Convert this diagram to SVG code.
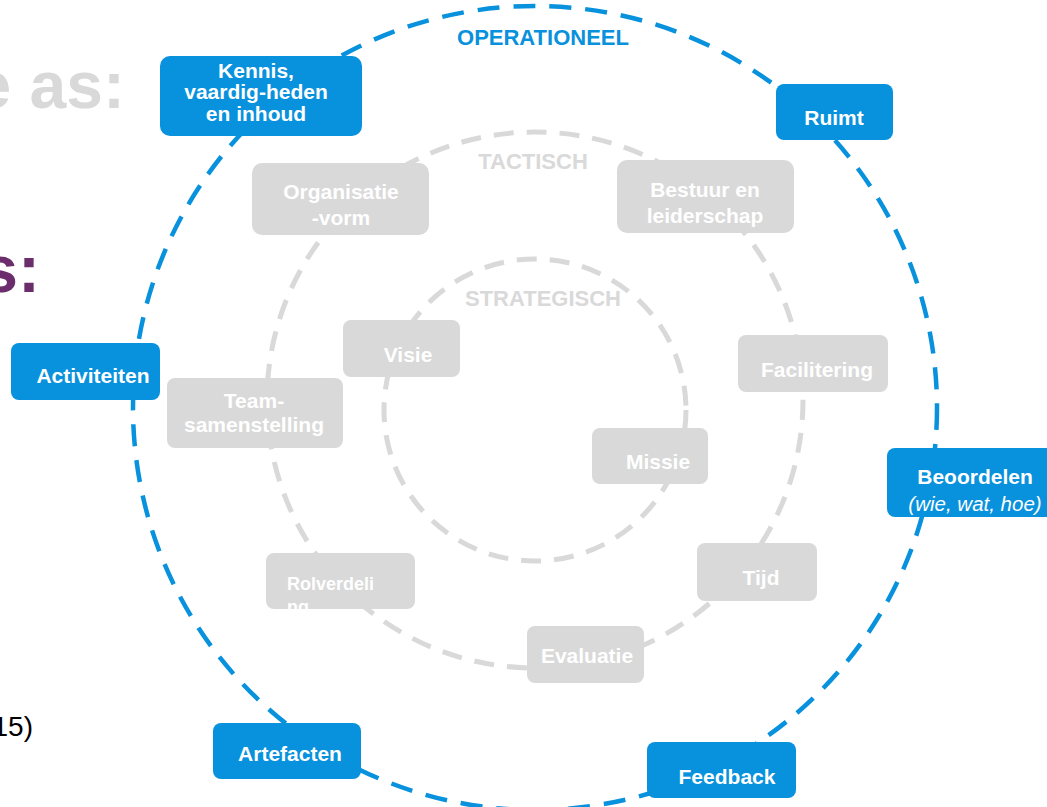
<svg xmlns="http://www.w3.org/2000/svg" width="1047" height="807" viewBox="0 0 1047 807">
<style>
  text { font-family: "Liberation Sans", Arial, sans-serif; }
  .blue { fill: #0891dc; }
  .grey { fill: #d9d9d9; }
  .bt { fill: #ffffff; font-weight: bold; font-size: 21px; text-anchor: middle; }
  .gt { fill: #ffffff; font-weight: bold; font-size: 21px; text-anchor: middle; }
  .lvl { font-weight: bold; font-size: 22px; text-anchor: middle; }
  .ring-op { fill: none; stroke: #0891dc; stroke-width: 4.5; stroke-dasharray: 22 14; }
  .ring-gr { fill: none; stroke: #d9d9d9; stroke-width: 5; stroke-dasharray: 20 13; }
</style>
<rect x="0" y="0" width="1047" height="807" fill="#ffffff"/>

<g id="background-text">
  <text x="125" y="108" font-size="66" font-weight="bold" fill="#d9d9d9" text-anchor="end">e as:</text>
  <text x="40" y="292" font-size="66" font-weight="bold" fill="#6b2d6b" text-anchor="end">s:</text>
  <text x="33" y="736" font-size="28" fill="#000000" text-anchor="end">15)</text>
</g>

<g id="connectors">
  <circle class="ring-op" cx="535" cy="408" r="402"/>
  <circle class="ring-gr" cx="535" cy="400" r="268"/>
  <circle class="ring-gr" cx="535" cy="410" r="151"/>
</g>

<g id="level-labels">
  <text class="lvl" x="543" y="45" fill="#0891dc">OPERATIONEEL</text>
  <text class="lvl" x="533" y="169" fill="#d9d9d9">TACTISCH</text>
  <text class="lvl" x="543" y="306" fill="#d9d9d9">STRATEGISCH</text>
</g>

<g id="node-kennis">
  <rect class="blue" x="160" y="56" width="202" height="80" rx="10"/>
  <text class="bt" x="256" y="78" font-size="16.5">Kennis,</text>
  <text class="bt" x="256" y="99" font-size="16.5">vaardig-heden</text>
  <text class="bt" x="256" y="121" font-size="16.5">en inhoud</text>
</g>
<g id="node-ruimt">
  <rect class="blue" x="776" y="84" width="117" height="56" rx="8"/>
  <text class="bt" x="834" y="125">Ruimt</text>
</g>
<g id="node-activiteiten">
  <rect class="blue" x="11" y="343" width="149" height="57" rx="8"/>
  <text class="bt" x="93" y="383">Activiteiten</text>
</g>
<g id="node-beoordelen">
  <rect class="blue" x="887" y="448" width="175" height="69" rx="8"/>
  <text class="bt" x="975" y="484">Beoordelen</text>
  <text x="975" y="511" font-size="20.5" font-style="italic" fill="#ffffff" text-anchor="middle">(wie, wat, hoe)</text>
</g>
<g id="node-feedback">
  <rect class="blue" x="647" y="742" width="149" height="56" rx="8"/>
  <text class="bt" x="727" y="784">Feedback</text>
</g>
<g id="node-artefacten">
  <rect class="blue" x="213" y="723" width="148" height="56" rx="8"/>
  <text class="bt" x="290" y="761">Artefacten</text>
</g>

<g id="node-organisatievorm">
  <rect class="grey" x="252" y="163" width="177" height="72" rx="10"/>
  <text class="gt" x="341" y="199">Organisatie</text>
  <text class="gt" x="341" y="225">-vorm</text>
</g>
<g id="node-bestuur">
  <rect class="grey" x="617" y="160" width="177" height="73" rx="10"/>
  <text class="gt" x="705" y="197">Bestuur en</text>
  <text class="gt" x="705" y="223">leiderschap</text>
</g>
<g id="node-visie">
  <rect class="grey" x="343" y="320" width="117" height="57" rx="8"/>
  <text class="gt" x="408" y="362">Visie</text>
</g>
<g id="node-facilitering">
  <rect class="grey" x="738" y="335" width="150" height="57" rx="8"/>
  <text class="gt" x="817" y="377">Facilitering</text>
</g>
<g id="node-teamsamenstelling">
  <rect class="grey" x="167" y="378" width="176" height="70" rx="8"/>
  <text class="gt" x="254" y="408" font-size="16.5">Team-</text>
  <text class="gt" x="254" y="432" font-size="16.5">samenstelling</text>
</g>
<g id="node-missie">
  <rect class="grey" x="592" y="428" width="116" height="56" rx="8"/>
  <text class="gt" x="658" y="469">Missie</text>
</g>
<g id="node-rolverdeling">
  <rect class="grey" x="266" y="553" width="149" height="56" rx="8"/>
  <text x="287" y="590" font-size="18" font-weight="bold" fill="#ffffff">Rolverdeli</text>
  <text x="287" y="613" font-size="18" font-weight="bold" fill="#ffffff">ng</text>
</g>
<g id="node-tijd">
  <rect class="grey" x="697" y="543" width="120" height="58" rx="8"/>
  <text class="gt" x="761" y="585">Tijd</text>
</g>
<g id="node-evaluatie">
  <rect class="grey" x="527" y="626" width="117" height="57" rx="8"/>
  <text class="gt" x="587" y="663" font-size="16">Evaluatie</text>
</g>
</svg>
